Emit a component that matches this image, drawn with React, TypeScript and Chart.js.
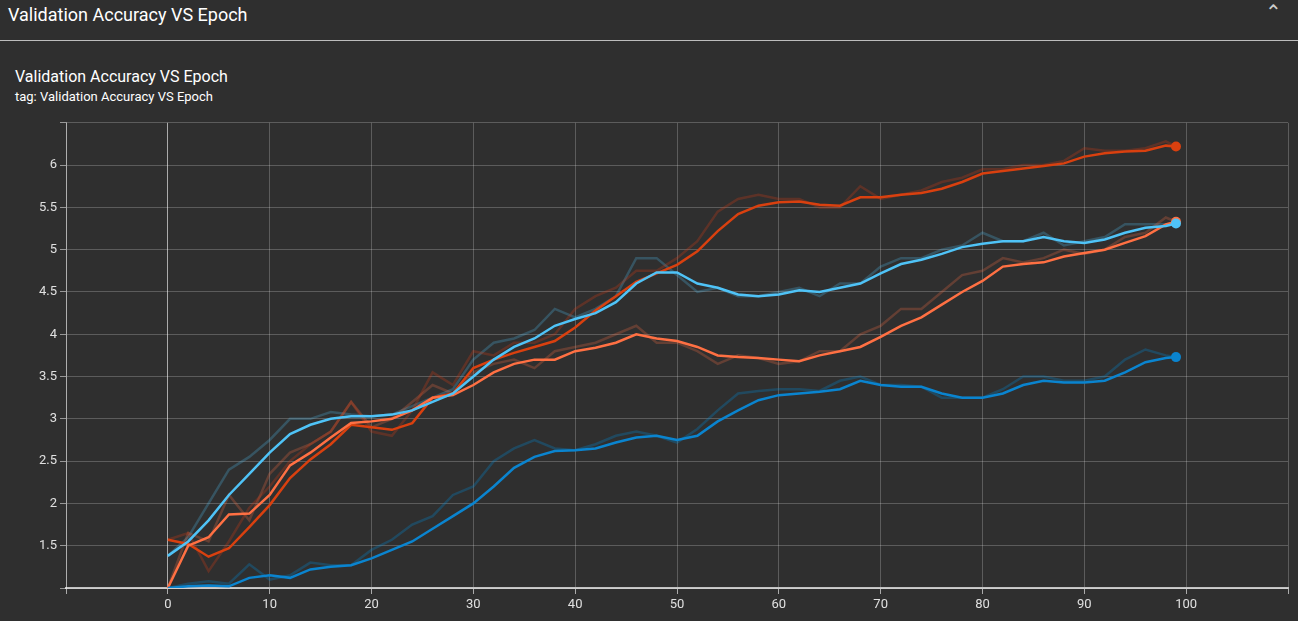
import React, { useEffect, useRef } from "react";
import { Chart, registerables } from "chart.js";

Chart.register(...registerables);

const epochs = [0, 2, 4, 6, 8, 10, 12, 14, 16, 18, 20, 22, 24, 26, 28, 30, 32, 34, 36, 38, 40, 42, 44, 46, 48, 50, 52, 54, 56, 58, 60, 62, 64, 66, 68, 70, 72, 74, 76, 78, 80, 82, 84, 86, 88, 90, 92, 94, 96, 98, 99];

const redSmooth = [1.57, 1.52, 1.37, 1.47, 1.72, 1.98, 2.3, 2.52, 2.7, 2.93, 2.9, 2.87, 2.95, 3.25, 3.3, 3.6, 3.7, 3.78, 3.85, 3.92, 4.08, 4.28, 4.45, 4.62, 4.72, 4.82, 4.98, 5.22, 5.42, 5.52, 5.56, 5.57, 5.53, 5.52, 5.62, 5.62, 5.65, 5.67, 5.72, 5.8, 5.9, 5.93, 5.96, 5.99, 6.02, 6.1, 6.14, 6.16, 6.17, 6.23, 6.22];
const redRaw = [1.57, 1.65, 1.2, 1.55, 1.95, 2.2, 2.5, 2.7, 2.85, 3.2, 2.85, 2.8, 3.1, 3.55, 3.4, 3.8, 3.75, 3.9, 3.9, 4.0, 4.3, 4.45, 4.55, 4.75, 4.75, 4.9, 5.1, 5.45, 5.6, 5.65, 5.6, 5.6, 5.5, 5.5, 5.75, 5.6, 5.65, 5.7, 5.8, 5.85, 5.95, 5.95, 6.0, 6.0, 6.05, 6.2, 6.17, 6.17, 6.2, 6.28, 6.22];
const orangeSmooth = [1.0, 1.5, 1.6, 1.87, 1.88, 2.1, 2.45, 2.6, 2.78, 2.95, 2.97, 3.0, 3.1, 3.25, 3.28, 3.4, 3.55, 3.65, 3.7, 3.7, 3.8, 3.84, 3.9, 4.0, 3.95, 3.92, 3.85, 3.75, 3.73, 3.72, 3.7, 3.68, 3.75, 3.8, 3.85, 3.97, 4.1, 4.2, 4.35, 4.5, 4.63, 4.8, 4.83, 4.85, 4.92, 4.96, 5.0, 5.08, 5.16, 5.3, 5.33];
const orangeRaw = [1.0, 1.65, 1.55, 2.1, 1.8, 2.35, 2.6, 2.7, 2.85, 3.2, 2.9, 3.0, 3.2, 3.4, 3.3, 3.55, 3.65, 3.7, 3.6, 3.8, 3.85, 3.9, 4.0, 4.1, 3.9, 3.9, 3.8, 3.65, 3.75, 3.72, 3.65, 3.68, 3.8, 3.8, 4.0, 4.1, 4.3, 4.3, 4.5, 4.7, 4.75, 4.9, 4.85, 4.9, 5.0, 4.95, 5.0, 5.15, 5.2, 5.38, 5.33];
const lightSmooth = [1.38, 1.55, 1.8, 2.1, 2.35, 2.6, 2.82, 2.93, 3.0, 3.03, 3.03, 3.05, 3.1, 3.2, 3.3, 3.5, 3.7, 3.85, 3.95, 4.1, 4.18, 4.25, 4.38, 4.6, 4.73, 4.73, 4.6, 4.55, 4.47, 4.45, 4.47, 4.52, 4.5, 4.55, 4.6, 4.72, 4.83, 4.88, 4.95, 5.03, 5.07, 5.1, 5.1, 5.15, 5.1, 5.08, 5.12, 5.2, 5.26, 5.28, 5.31];
const lightRaw = [1.38, 1.6, 2.0, 2.4, 2.55, 2.75, 3.0, 3.0, 3.08, 3.05, 3.03, 3.05, 3.15, 3.25, 3.35, 3.7, 3.9, 3.95, 4.05, 4.3, 4.2, 4.3, 4.45, 4.9, 4.9, 4.7, 4.5, 4.55, 4.45, 4.45, 4.5, 4.55, 4.45, 4.6, 4.6, 4.8, 4.9, 4.9, 5.0, 5.05, 5.2, 5.1, 5.1, 5.2, 5.05, 5.1, 5.15, 5.3, 5.3, 5.3, 5.31];
const blueSmooth = [1.0, 1.02, 1.03, 1.02, 1.12, 1.15, 1.12, 1.22, 1.25, 1.27, 1.35, 1.45, 1.55, 1.7, 1.85, 2.0, 2.2, 2.42, 2.55, 2.62, 2.63, 2.65, 2.72, 2.78, 2.8, 2.75, 2.8, 2.97, 3.1, 3.22, 3.28, 3.3, 3.32, 3.35, 3.45, 3.4, 3.38, 3.38, 3.3, 3.25, 3.25, 3.3, 3.4, 3.45, 3.43, 3.43, 3.45, 3.55, 3.67, 3.72, 3.73];
const blueRaw = [1.0, 1.05, 1.08, 1.05, 1.28, 1.1, 1.15, 1.3, 1.27, 1.27, 1.45, 1.57, 1.75, 1.85, 2.1, 2.2, 2.5, 2.65, 2.75, 2.65, 2.63, 2.7, 2.8, 2.85, 2.8, 2.72, 2.88, 3.1, 3.3, 3.33, 3.35, 3.35, 3.33, 3.45, 3.5, 3.4, 3.4, 3.38, 3.25, 3.25, 3.25, 3.35, 3.5, 3.5, 3.45, 3.45, 3.5, 3.7, 3.82, 3.75, 3.73];

const xTickLabels = [0, 10, 20, 30, 40, 50, 60, 70, 80, 90, 100];
const yTickLabels = [1.5, 2, 2.5, 3, 3.5, 4, 4.5, 5, 5.5, 6];

const pts = (v: number[]) => v.map((y, i) => ({ x: epochs[i], y }));

const App = () => {
  const canvasRef = useRef<HTMLCanvasElement>(null);

  useEffect(() => {
    document.body.style.margin = "0";
    document.body.style.background = "#2f2f2f";
    const canvas = canvasRef.current;
    if (!canvas) return;

    const raw = (data: number[], color: string) => ({
      data: pts(data),
      borderColor: color,
      borderWidth: 2.5,
      pointRadius: 0,
      order: 2,
    });
    const smooth = (data: number[], color: string) => ({
      data: pts(data),
      borderColor: color,
      backgroundColor: color,
      borderWidth: 2.5,
      pointRadius: data.map((_, i) => (i === data.length - 1 ? 5 : 0)),
      pointBorderWidth: 0,
      order: 1,
    });

    const chart = new Chart(canvas, {
      type: "line",
      data: {
        datasets: [
          raw(redRaw, "rgba(215,60,20,0.28)"),
          raw(orangeRaw, "rgba(255,112,67,0.25)"),
          raw(lightRaw, "rgba(79,195,247,0.25)"),
          raw(blueRaw, "rgba(2,136,209,0.3)"),
          smooth(blueSmooth, "#0a84cf"),
          smooth(lightSmooth, "#4fc3f7"),
          smooth(orangeSmooth, "#ff7043"),
          smooth(redSmooth, "#d9400f"),
        ],
      },
      options: {
        animation: false,
        responsive: false,
        layout: { padding: { top: 6, right: 10, left: 0, bottom: 0 } },
        plugins: { legend: { display: false }, tooltip: { enabled: false } },
        scales: {
          x: {
            type: "linear",
            min: -10,
            max: 110,
            ticks: {
              stepSize: 10,
              color: "#e0e0e0",
              font: { family: "Roboto", size: 13 },
              callback: (v: any) => (xTickLabels.includes(Number(v)) ? String(v) : ""),
            },
            grid: {
              color: (c: any) => (c.tick && c.tick.value === 0 ? "rgba(255,255,255,0.6)" : "rgba(255,255,255,0.22)"),
              tickColor: "rgba(255,255,255,0.6)",
              tickLength: 6,
            },
            border: { color: "rgba(255,255,255,0.7)", width: 2 },
            afterFit: (s: any) => { s.height = 33; },
          },
          y: {
            min: 1,
            max: 6.5,
            ticks: {
              stepSize: 0.5,
              color: "#e0e0e0",
              font: { family: "Roboto", size: 13 },
              callback: (v: any) => (yTickLabels.includes(Number(v)) ? String(v) : ""),
            },
            grid: { color: "rgba(255,255,255,0.22)", tickColor: "rgba(255,255,255,0.5)", tickLength: 6 },
            border: { color: "rgba(255,255,255,0.5)" },
            afterFit: (s: any) => { s.width = 66; },
          },
        },
      },
    });

    return () => chart.destroy();
  }, []);

  return (
    <div style={{ position: "relative", width: 1298, height: 621, background: "#2f2f2f", fontFamily: "Roboto", color: "#fff", overflow: "hidden" }}>
      <div style={{ position: "absolute", left: 8, top: 4, fontSize: 18 }}>Validation Accuracy VS Epoch</div>
      <div style={{ position: "absolute", right: 16, top: 0, fontSize: 20, color: "#ccc" }}>⌃</div>
      <div style={{ position: "absolute", left: 0, top: 40, width: 1298, height: 1, background: "#bdbdbd" }} />
      <div style={{ position: "absolute", left: 15, top: 67, fontSize: 16 }}>Validation Accuracy VS Epoch</div>
      <div style={{ position: "absolute", left: 15, top: 89, fontSize: 13 }}>tag: Validation Accuracy VS Epoch</div>
      <canvas ref={canvasRef} width={1298} height={509} style={{ position: "absolute", left: 0, top: 112 }} />
    </div>
  );
};

export default App;
